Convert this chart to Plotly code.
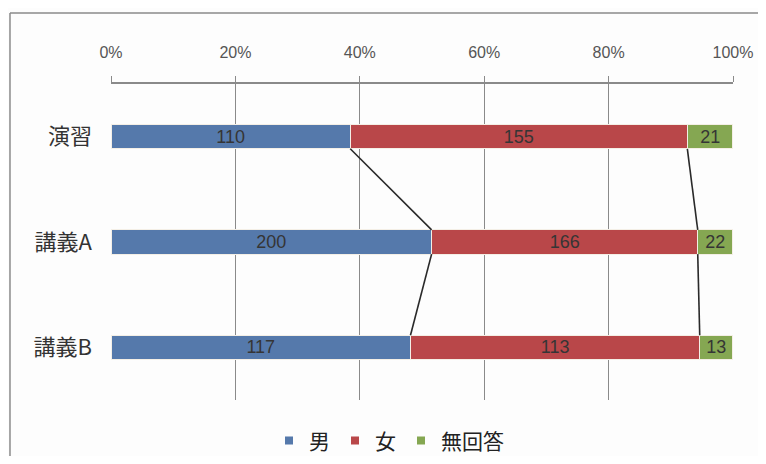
import plotly.graph_objects as go

categories = ["演習", "講義A", "講義B"]
series_names = ["男", "女", "無回答"]
male = [110, 200, 117]
female = [155, 166, 113]
no_answer = [21, 22, 13]
x_ticks = [0, 20, 40, 60, 80, 100]
x_tick_labels = ["0%", "20%", "40%", "60%", "80%", "100%"]

colors = ["#5579ab", "#b94749", "#85a752"]
series = [male, female, no_answer]
totals = [sum(v) for v in zip(*series)]
pct = [[v / t * 100 for v, t in zip(s, totals)] for s in series]
ypos = list(range(len(categories)))
bar_w = 0.23
num_font = "Liberation Sans Narrow, Arial Narrow, Liberation Sans, Arial"

fig = go.Figure()
for name, vals, p, c in zip(series_names, series, pct, colors):
    fig.add_trace(go.Bar(
        y=ypos, x=p, orientation="h", name=name, width=bar_w,
        marker=dict(color=c, line=dict(color="#f4efe6", width=1.2)),
        text=[str(v) for v in vals], textposition="inside",
        insidetextanchor="middle", textangle=0,
        textfont=dict(family=num_font, size=18, color="#353535"),
        constraintext="none", showlegend=False,
    ))
    # legend entry with small square marker
    fig.add_trace(go.Scatter(
        x=[None], y=[None], mode="markers", name=name,
        marker=dict(symbol="square", size=8, color=c),
        showlegend=True, hoverinfo="skip",
    ))

# series connector lines between cumulative boundaries
cum = [0] * len(categories)
for p in pct[:-1]:
    cum = [a + b for a, b in zip(cum, p)]
    for i in range(len(categories) - 1):
        fig.add_trace(go.Scatter(
            x=[cum[i], cum[i + 1]],
            y=[ypos[i] + bar_w / 2, ypos[i + 1] - bar_w / 2],
            mode="lines", line=dict(color="#2a2a2a", width=1.6),
            showlegend=False, hoverinfo="skip",
        ))

fig.update_layout(
    width=750, height=448,
    margin=dict(l=103, r=25, t=76, b=56),
    barmode="stack",
    paper_bgcolor="#fdfdfd", plot_bgcolor="#fdfdfd",
    xaxis=dict(
        side="top", range=[0, 100], tickvals=x_ticks, ticktext=x_tick_labels,
        showgrid=True, gridcolor="#8a8a8a", gridwidth=1,
        showline=True, linecolor="#8a8a8a", linewidth=1.5,
        ticks="outside", ticklen=6, tickcolor="#8a8a8a",
        ticklabelstandoff=12, automargin=False,
        tickfont=dict(family=num_font, size=16, color="#555555"),
        zeroline=False, fixedrange=True,
    ),
    yaxis=dict(
        range=[len(categories) - 0.5, -0.5], tickvals=ypos, ticktext=categories,
        showgrid=False, zeroline=False, showline=False, ticks="",
        ticklabelstandoff=18, automargin=False,
        tickfont=dict(family="Noto Sans CJK JP", size=22, color="#333333"),
    ),
    legend=dict(
        orientation="h", xref="container", yref="container",
        x=0.348, xanchor="left", y=0.034, yanchor="middle",
        font=dict(family="Noto Sans CJK JP", size=21, color="#222222"),
        itemwidth=30, traceorder="normal", bgcolor="rgba(0,0,0,0)",
    ),
    shapes=[
        dict(type="line", xref="paper", yref="paper", x0=-0.1624, x1=1.2,
             y0=1.2247, y1=1.2247, line=dict(color="#8a8a8a", width=1.5)),
        dict(type="line", xref="paper", yref="paper", x0=-0.1624, x1=-0.1624,
             y0=1.2247, y1=-0.3, line=dict(color="#8a8a8a", width=1.5)),
    ],
)

fig.write_html("out.html")
